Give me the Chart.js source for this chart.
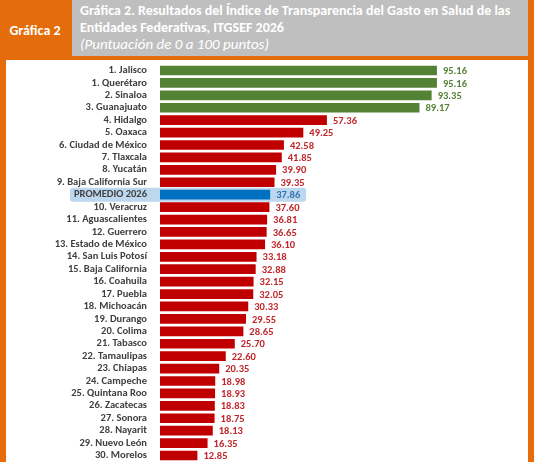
<!DOCTYPE html>
<html><head><meta charset="utf-8">
<script src="https://cdn.jsdelivr.net/npm/chart.js@4"></script>
<style>
body{margin:0;width:534px;height:462px;background:#e46c0a;overflow:hidden;font-family:Calibri,"Liberation Sans",Carlito,sans-serif;position:relative}
#tag{position:absolute;left:0;top:0;width:70px;height:58px;background:#e46c0a;color:#fff;font-weight:bold;font-size:14px;line-height:62px;text-align:center}
#head{position:absolute;left:72px;top:0;width:456px;height:56px;background:#bfbfbf;color:#fff;font-size:14px;font-weight:bold;padding:2px 0 0 8px;box-sizing:border-box;line-height:17px}
#head i{font-weight:normal;font-size:15px}
#panel{position:absolute;left:6px;top:60px;width:522px;height:402px;background:#fff;overflow:hidden}
#c{position:absolute;left:0;top:-7px}
</style></head><body>
<div id="tag">Gráfica 2</div>
<div id="head">Gráfica 2. Resultados del Índice de Transparencia del Gasto en Salud de las Entidades Federativas, ITGSEF 2026<br><i>(Puntuación de 0 a 100 puntos)</i></div>
<div id="panel"><canvas id="c" width="522" height="420"></canvas></div>
<script>
const entidades = ["1. Jalisco","1. Querétaro","2. Sinaloa","3. Guanajuato","4. Hidalgo","5. Oaxaca","6. Ciudad de México","7. Tlaxcala","8. Yucatán","9. Baja California Sur","PROMEDIO 2026","10. Veracruz","11. Aguascalientes","12. Guerrero","13. Estado de México","14. San Luis Potosí","15. Baja California","16. Coahuila","17. Puebla","18. Michoacán","19. Durango","20. Colima","21. Tabasco","22. Tamaulipas","23. Chiapas","24. Campeche","25. Quintana Roo","26. Zacatecas","27. Sonora","28. Nayarit","29. Nuevo León","30. Morelos"];
const puntuacion = [95.16,95.16,93.35,89.17,57.36,49.25,42.58,41.85,39.90,39.35,37.86,37.60,36.81,36.65,36.10,33.18,32.88,32.15,32.05,30.33,29.55,28.65,25.70,22.60,20.35,18.98,18.93,18.83,18.75,18.13,16.35,12.85];
const grupo = puntuacion.map((v,i)=> entidades[i].startsWith("PROMEDIO") ? "p" : (v>80 ? "g" : "r"));
const barCol = {g:"#548235", r:"#c00000", p:"#0070c0"};
const txtCol = {g:"#548235", r:"#c0262b", p:"#2e75b6"};

const extras = {
  id:"extras",
  beforeDraw(chart){
    const {ctx, scales:{x,y}} = chart;
    const i = grupo.indexOf("p");
    const yc = y.getPixelForValue(i);
    ctx.save();
    ctx.fillStyle = "#bdd7ee";
    ctx.beginPath();
    ctx.roundRect(64, yc-7, x.getPixelForValue(puntuacion[i]) + 36 - 64, 14, 3);
    ctx.fill();
    ctx.restore();
  },
  afterDatasetsDraw(chart){
    const {ctx} = chart;
    const meta = chart.getDatasetMeta(0);
    ctx.save();
    ctx.font = "bold 10.5px Calibri, 'Liberation Sans', sans-serif";
    ctx.textBaseline = "middle";
    meta.data.forEach((b,i)=>{
      ctx.fillStyle = txtCol[grupo[i]];
      ctx.fillText(puntuacion[i].toFixed(2), b.x+6, b.y+1);
    });
    ctx.restore();
  }
};

new Chart(document.getElementById("c"), {
  type:"bar",
  data:{labels:entidades, datasets:[{data:puntuacion, backgroundColor:grupo.map(g=>barCol[g]), categoryPercentage:1, barPercentage:0.78}]},
  options:{
    indexAxis:"y", responsive:false, animation:false,
    layout:{padding:{top:0, bottom:0, right:77}},
    plugins:{legend:{display:false}, tooltip:{enabled:false}},
    scales:{
      x:{min:0, max:100, display:false},
      y:{
        grid:{display:false}, border:{display:false},
        afterFit(s){ s.width = 154; },
        ticks:{autoSkip:false, color:"#404040", padding:5, font:{family:"Calibri, 'Liberation Sans', sans-serif", size:10.5, weight:"bold"}}
      }
    }
  },
  plugins:[extras]
});
</script>
</body></html>
